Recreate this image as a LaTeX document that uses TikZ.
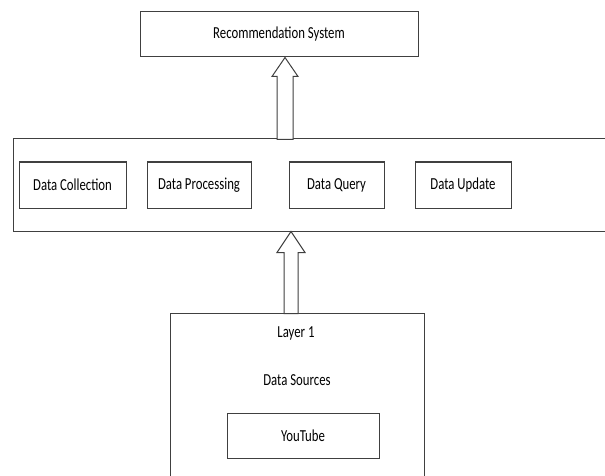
\documentclass[tikz,border=0pt]{standalone}
\usepackage{fontspec}
\setmainfont{Carlito}[FakeStretch=0.76]
\usetikzlibrary{positioning,calc}

\begin{document}
\begin{tikzpicture}[x=1pt,y=-1pt,
                font=\fontsize{16.8}{19}\selectfont,
                box/.style n args={2}{draw=black!75,line width=1pt,
                    minimum width=#1pt,
                    minimum height=#2pt,
                    inner sep=0pt,
                    rectangle,fill=white},
                hollow/.style={draw=black!75,line width=1pt,fill=white}]
                \useasboundingbox (0,0) rectangle (605,476);
                \node[box={278}{45}](rec) at (279,34.5) {Recommendation System};
                \node[box={612}{92}](mid) at (319,185) {};
                \node[box={107}{46}](col) at (72.5,185) {Data Collection};
                \node[box={104}{46}](proc) at (199,185) {Data Processing};
                \node[box={95}{46}](query) at (336.5,185) {Data Query};
                \node[box={96}{46}](upd) at (463,185) {Data Update};
                \node[box={254}{187}](lay) at (297,406.5) {};
                \node(layname) at (296,333) {Layer 1};
                \node(src) at (297,380) {Data Sources};
                \node[box={152}{45}](yt) at (303,435.5) {YouTube};
                % hollow block arrows
                \coordinate (tip1) at ($(rec.south)+(6,0)$);
                \coordinate (tip2) at ($(mid.south)+(-28,0)$);
                \draw[hollow] (tip1) -- ++(13,19) -- ++(-5,0) -- ++(0,63) -- ++(-16,0) -- ++(0,-63) -- ++(-5,0) -- cycle;
                \draw[hollow] (tip2) -- ++(14,21) -- ++(-7,0) -- ++(0,61) -- ++(-14,0) -- ++(0,-61) -- ++(-7,0) -- cycle;
            \end{tikzpicture}
\end{document}
